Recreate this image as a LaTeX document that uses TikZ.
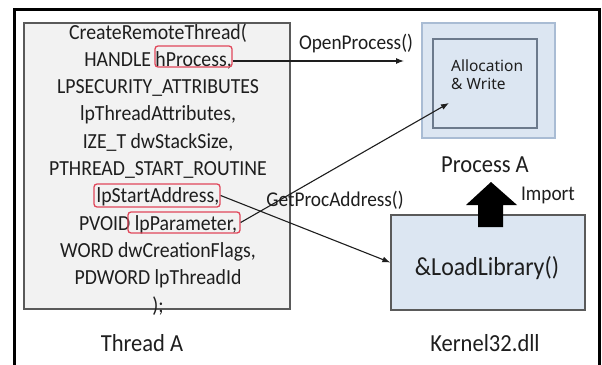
\documentclass[tikz,border=0pt]{standalone}
\usepackage{fontspec}
\setmainfont[FakeStretch=0.92]{Carlito}
\newfontfamily\notosans{Noto Sans}
\usetikzlibrary{arrows.meta}
\definecolor{ink}{HTML}{1E1E1E}
\definecolor{boxgray}{HTML}{F2F2F2}
\definecolor{boxedge}{HTML}{5A5A5A}
\definecolor{paleblue}{HTML}{DCE6F2}
\definecolor{paleedge}{HTML}{A9BCD4}
\definecolor{inneredge}{HTML}{6C7A8C}
\definecolor{hlred}{HTML}{E0475A}
\tikzset{
  x=1pt, y=-1pt,
  codeline/.style={anchor=base, inner sep=0pt, text=ink, font=\fontsize{21.5}{24}\selectfont},
  biglabel/.style={anchor=center, inner sep=0pt, text=ink, font=\fontsize{24.5}{28}\selectfont},
  edgelabel/.style={anchor=center, inner sep=0pt, text=ink, font=\fontsize{21}{24}\selectfont},
  hlbox/.style={draw=hlred, line width=1.3pt, rounded corners=3pt, inner sep=0pt},
  arr/.style={draw=ink, line width=1.1pt, -{Latex[length=8pt,width=6pt]}},
}
\begin{document}
\begin{tikzpicture}
\useasboundingbox (0,0) rectangle (602,364);
\fill[white] (0,0) rectangle (602,364);
% outer frame, open at the bottom
\draw[line width=3pt, black] (14,370) -- (14,9) -- (599,9) -- (599,370);

% Thread A: the CreateRemoteThread call
\node[draw=boxedge, fill=boxgray, line width=1.5pt, minimum width=266pt, minimum height=286pt, inner sep=0pt] (thread) at (157,166) {};
\foreach \t [count=\i] in {
  {CreateRemoteThread(},
  {HANDLE hProcess,},
  {LPSECURITY\_ATTRIBUTES},
  {lpThreadAttributes,},
  {IZE\_T dwStackSize,},
  {PTHREAD\_START\_ROUTINE},
  {lpStartAddress,},
  {PVOID lpParameter,},
  {WORD dwCreationFlags,},
  {PDWORD lpThreadId},
  {);}}
  \node[codeline] (l\i) at (158, {39+27.3*(\i-1)}) {\t};

% highlighted arguments
\node[hlbox, minimum width=77pt, minimum height=21pt] (hproc) at (193.5,56.5) {};
\node[hlbox, minimum width=126pt, minimum height=23pt] (lpstart) at (157,195.5) {};
\node[hlbox, minimum width=112pt, minimum height=21pt] (lppar) at (184,222.5) {};

\node[biglabel] (threadlbl) at (142,343) {Thread A};

% Process A
\node[draw=paleedge, fill=paleblue, line width=1.2pt, minimum width=133pt, minimum height=115pt, inner sep=0pt] (procA) at (488.5,80.5) {};
\node[draw=inneredge, fill=paleblue, line width=1.1pt, minimum width=104pt, minimum height=89pt, inner sep=0pt] (alloc) at (485,83.5) {};
\node[anchor=north west, inner sep=0pt, align=left, text=ink, font=\notosans\fontsize{15.5}{18}\selectfont] (alloctxt) at (451,60) {Allocation\\\& Write};
\node[biglabel] (proclbl) at (485,165) {Process A};

% Kernel32.dll
\node[draw=boxedge, fill=paleblue, line width=1.3pt, minimum width=194pt, minimum height=95pt, inner sep=0pt] (lib) at (488,262.5) {};
\node[anchor=center, inner sep=0pt, text=ink, font=\fontsize{26}{30}\selectfont] (libtxt) at (487,268) {\&LoadLibrary()};
\node[biglabel] (kernlbl) at (485,343) {Kernel32.dll};

% import block arrow
\fill[black] (491,182) -- (517,205) -- (503,205) -- (503,227) -- (478,227) -- (478,205) -- (466,205) -- cycle;
\node[edgelabel] (importlbl) at (548,195) {Import};

% connectors
\coordinate (opEnd) at (404,61);
\coordinate (allocPt) at (449,103);
\draw[arr] (hproc.east |- opEnd) -- (opEnd);
\node[edgelabel] (oplbl) at (356,44) {OpenProcess()};
\draw[arr] (lpstart.east) -- (lib.west);
\draw[arr] (lppar.east) -- (allocPt);
\node[edgelabel] (gpalbl) at (335,200) {GetProcAddress()};
\end{tikzpicture}
\end{document}
